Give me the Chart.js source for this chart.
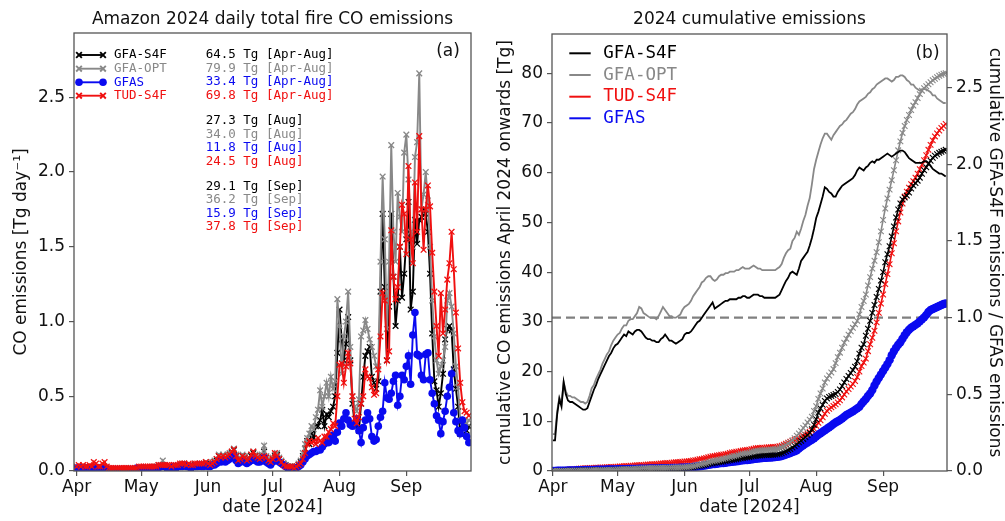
<!DOCTYPE html>
<html><head><meta charset="utf-8">
<script src="https://cdn.jsdelivr.net/npm/chart.js@4.4.1/dist/chart.umd.min.js"></script>
<style>
html,body{margin:0;padding:0;background:#fff;}
#wrap{position:relative;width:1005px;height:521px;overflow:hidden;background:#fff;}
#ca{position:absolute;left:0;top:0;}
#cb{position:absolute;left:490px;top:0;}
</style></head><body>
<div id="wrap"><canvas id="ca" width="490" height="521"></canvas><canvas id="cb" width="515" height="521"></canvas></div>
<script>
// ---------- data (day offset from 1 April 2024) ----------
const days = Array.from({length:183}, (_, i) => i);
const monthStarts = [0,30,61,91,122,153];
const monthLabels = ['Apr','May','Jun','Jul','Aug','Sep'];
const yTicksA = [0,0.5,1,1.5,2,2.5];
const yTicksB = [0,10,20,30,40,50,60,70,80];
const yTicksB2 = [0,0.5,1,1.5,2,2.5];
const ratioRef = 1.0;

const seriesNames = ['GFA-S4F','GFA-OPT','GFAS','TUD-S4F'];
const totAprAug = [64.5,79.9,33.4,69.8];
const totAug = [27.3,34.0,11.8,24.5];
const totSep = [29.1,36.2,15.9,37.8];

const dailyGfaS4F = [0.01,0.01,0.01,0.02,0.01,0.01,0.02,0.01,0.02,0.01,
 0.01,0.02,0.01,0.02,0.01,0.01,0.01,0.01,0.01,0.01,
 0.01,0.01,0.01,0.01,0.01,0.01,0.01,0.01,0.02,0.01,
 0.01,0.02,0.01,0.01,0.02,0.01,0.02,0.02,0.03,0.03,
 0.04,0.03,0.02,0.02,0.02,0.03,0.02,0.03,0.03,0.04,
 0.04,0.03,0.03,0.02,0.03,0.04,0.03,0.04,0.03,0.04,
 0.05,0.04,0.04,0.05,0.06,0.07,0.1,0.09,0.1,0.08,
 0.1,0.11,0.12,0.14,0.1,0.07,0.08,0.1,0.09,0.07,
 0.08,0.1,0.12,0.1,0.09,0.08,0.1,0.13,0.09,0.07,
 0.06,0.08,0.1,0.11,0.08,0.06,0.05,0.04,0.03,0.03,
 0.03,0.02,0.03,0.04,0.06,0.1,0.15,0.2,0.18,0.25,
 0.22,0.3,0.3,0.34,0.41,0.3,0.38,0.36,0.4,0.43,
 0.5,0.79,1.08,0.88,0.74,0.85,1.03,0.74,0.45,0.32,
 0.3,0.27,0.45,0.63,0.77,0.8,0.83,0.63,0.59,0.55,
 0.6,1.2,1.72,1.23,0.74,1.1,1.72,1.3,0.97,1.14,
 1.5,1.16,1.32,1.55,1.8,1.08,1.2,1.68,1.52,1.68,
 1.7,1.75,1.72,1.6,1.32,0.92,0.6,0.54,0.43,0.52,
 0.65,0.88,0.95,0.97,0.94,0.68,0.55,0.43,0.25,0.31,
 0.28,0.27,0.3];
const dailyGfaOpt = [0.02,0.02,0.02,0.03,0.02,0.02,0.02,0.02,0.03,0.02,
 0.02,0.02,0.02,0.03,0.02,0.01,0.01,0.01,0.01,0.01,
 0.01,0.01,0.01,0.01,0.01,0.02,0.01,0.01,0.02,0.02,
 0.02,0.02,0.01,0.02,0.02,0.02,0.03,0.03,0.04,0.04,
 0.07,0.04,0.03,0.03,0.03,0.03,0.03,0.04,0.04,0.05,
 0.05,0.04,0.04,0.03,0.04,0.05,0.04,0.05,0.04,0.05,
 0.06,0.05,0.04,0.06,0.07,0.08,0.11,0.1,0.11,0.09,
 0.11,0.12,0.13,0.15,0.11,0.08,0.09,0.11,0.1,0.08,
 0.09,0.11,0.13,0.11,0.1,0.09,0.11,0.17,0.1,0.08,
 0.07,0.09,0.11,0.12,0.09,0.07,0.05,0.04,0.03,0.03,
 0.03,0.03,0.03,0.05,0.07,0.12,0.18,0.22,0.25,0.3,
 0.28,0.36,0.41,0.54,0.43,0.5,0.59,0.5,0.63,0.55,
 0.6,1.15,0.97,0.65,0.9,1.0,1.2,0.83,0.5,0.43,
 0.4,0.48,0.9,0.94,1.01,0.95,0.88,0.83,0.77,0.7,
 0.7,1.4,1.97,1.55,0.95,1.4,2.18,1.6,1.4,1.86,
 1.7,1.6,2.13,2.25,1.95,1.6,1.5,2.1,2.2,2.66,
 1.75,1.85,2.0,1.81,1.5,1.14,0.9,0.74,0.65,0.7,
 0.74,0.83,1.14,1.19,1.1,0.92,0.7,0.56,0.34,0.34,
 0.33,0.32,0.34];
const dailyGfas = [0.02,0.02,0.02,0.02,0.02,0.02,0.02,0.02,0.02,0.02,
 0.02,0.02,0.02,0.02,0.01,0.01,0.01,0.01,0.01,0.01,
 0.01,0.01,0.01,0.01,0.01,0.01,0.01,0.01,0.02,0.01,
 0.01,0.02,0.01,0.01,0.02,0.02,0.02,0.02,0.02,0.03,
 0.03,0.03,0.02,0.02,0.02,0.03,0.02,0.03,0.03,0.03,
 0.04,0.03,0.03,0.02,0.03,0.03,0.03,0.04,0.03,0.03,
 0.04,0.03,0.03,0.04,0.04,0.05,0.07,0.06,0.07,0.06,
 0.07,0.08,0.09,0.1,0.07,0.05,0.06,0.07,0.06,0.05,
 0.06,0.07,0.08,0.07,0.06,0.06,0.07,0.09,0.06,0.05,
 0.04,0.06,0.07,0.08,0.06,0.05,0.04,0.03,0.02,0.02,
 0.02,0.02,0.02,0.03,0.04,0.06,0.08,0.1,0.11,0.12,
 0.13,0.13,0.14,0.14,0.16,0.18,0.2,0.19,0.22,0.24,
 0.2,0.26,0.32,0.3,0.35,0.39,0.34,0.31,0.3,0.32,
 0.35,0.27,0.19,0.29,0.34,0.39,0.35,0.23,0.2,0.21,
 0.3,0.36,0.4,0.59,0.49,0.48,0.52,0.6,0.64,0.44,
 0.5,0.64,0.61,0.7,0.77,0.58,0.91,1.06,0.78,0.77,
 0.64,0.61,0.78,0.79,0.61,0.52,0.45,0.37,0.34,0.25,
 0.33,0.4,0.5,0.56,0.65,0.39,0.33,0.27,0.25,0.34,
 0.29,0.23,0.19];
const dailyTudS4F = [0.03,0.04,0.03,0.04,0.03,0.03,0.04,0.03,0.06,0.05,
 0.03,0.03,0.05,0.06,0.03,0.02,0.02,0.02,0.02,0.02,
 0.02,0.02,0.02,0.02,0.02,0.02,0.02,0.02,0.02,0.03,
 0.03,0.03,0.03,0.03,0.03,0.03,0.03,0.03,0.04,0.04,
 0.04,0.04,0.04,0.04,0.03,0.04,0.04,0.04,0.05,0.05,
 0.05,0.04,0.05,0.04,0.04,0.05,0.05,0.05,0.05,0.05,
 0.06,0.05,0.04,0.05,0.06,0.08,0.1,0.09,0.1,0.09,
 0.1,0.11,0.13,0.145,0.1,0.07,0.08,0.1,0.09,0.07,
 0.08,0.11,0.13,0.1,0.09,0.08,0.09,0.1,0.09,0.07,
 0.06,0.08,0.12,0.1,0.08,0.06,0.04,0.03,0.03,0.03,
 0.03,0.02,0.03,0.04,0.05,0.08,0.12,0.18,0.2,0.19,
 0.2,0.18,0.22,0.2,0.19,0.23,0.23,0.26,0.28,0.32,
 0.3,0.5,0.71,0.72,0.59,0.7,0.79,0.72,0.5,0.35,
 0.32,0.36,0.45,0.5,0.68,0.63,0.62,0.56,0.51,0.52,
 0.68,0.9,1.19,1.14,0.74,0.8,1.61,1.3,1.15,1.23,
 1.5,1.78,1.72,1.45,2.04,1.55,1.39,1.93,1.6,2.24,
 1.75,1.48,1.75,1.91,1.77,1.46,1.2,0.97,0.77,1.19,
 0.92,1.08,1.28,1.39,1.6,1.35,1.06,0.82,0.59,0.46,
 0.4,0.39,0.37];

const cumGfaS4F = [0.0,0.01,0.01,0.02,0.02,0.03,0.04,0.04,0.05,0.06,
 0.07,0.08,0.09,0.1,0.11,0.12,0.13,0.14,0.15,0.16,
 0.17,0.18,0.19,0.2,0.21,0.22,0.23,0.24,0.26,0.27,
 0.28,0.29,0.3,0.31,0.32,0.33,0.34,0.35,0.36,0.37,
 0.38,0.39,0.4,0.41,0.42,0.43,0.44,0.45,0.46,0.47,
 0.48,0.49,0.5,0.51,0.52,0.53,0.54,0.55,0.56,0.57,
 0.59,0.62,0.65,0.69,0.74,0.8,0.88,0.96,1.04,1.11,
 1.19,1.28,1.38,1.49,1.57,1.63,1.7,1.78,1.85,1.91,
 1.98,2.06,2.16,2.24,2.31,2.38,2.46,2.56,2.63,2.69,
 2.74,2.81,2.89,2.98,3.04,3.09,3.13,3.16,3.19,3.21,
 3.23,3.25,3.27,3.3,3.35,3.44,3.58,3.78,3.96,4.2,
 4.42,4.72,5.02,5.36,5.77,6.07,6.45,6.81,7.21,7.64,
 8.4,9.3,10.4,11.7,12.6,13.3,14.1,14.6,14.9,15.1,
 15.3,15.5,15.9,16.4,17.1,17.8,18.5,19.1,19.7,20.3,
 21.0,22.1,23.6,24.8,25.5,27.2,28.6,30.2,31.8,33.4,
 35.0,36.6,38.3,40.0,42.0,43.6,45.2,47.2,49.2,51.0,
 52.6,53.8,54.6,55.0,55.4,56.0,56.8,57.4,57.9,58.4,
 59.0,59.8,60.5,61.1,61.8,62.4,63.0,63.4,63.7,64.0,
 64.2,64.4,64.6];
const cumGfaOpt = [0.0,0.0,0.01,0.01,0.02,0.02,0.03,0.03,0.04,0.04,
 0.05,0.06,0.07,0.08,0.09,0.1,0.11,0.12,0.13,0.14,
 0.15,0.16,0.17,0.18,0.19,0.2,0.21,0.23,0.25,0.27,
 0.29,0.31,0.33,0.35,0.37,0.39,0.41,0.43,0.45,0.47,
 0.5,0.52,0.54,0.55,0.57,0.58,0.6,0.61,0.62,0.63,
 0.64,0.65,0.66,0.67,0.68,0.69,0.7,0.71,0.72,0.73,
 0.75,0.78,0.82,0.87,0.93,1.0,1.1,1.2,1.3,1.4,
 1.5,1.62,1.75,1.9,2.0,2.08,2.17,2.28,2.38,2.46,
 2.55,2.66,2.79,2.9,3.0,3.09,3.2,3.37,3.47,3.55,
 3.62,3.71,3.82,3.94,4.03,4.1,4.15,4.19,4.22,4.25,
 4.28,4.31,4.34,4.39,4.46,4.58,4.76,4.98,5.23,5.53,
 5.81,6.17,6.58,7.12,7.55,8.05,8.64,9.14,9.77,10.32,
 10.92,12.07,13.04,14.5,15.6,16.6,17.8,18.6,19.2,19.8,
 20.5,21.7,22.9,23.8,24.8,25.8,26.6,27.4,28.1,28.8,
 29.5,30.2,31.5,33.0,34.2,35.5,37.3,39.0,40.7,42.3,
 44.0,46.0,48.2,50.5,52.8,54.8,56.6,58.5,60.5,62.5,
 64.5,66.3,68.0,69.4,70.6,71.6,72.6,73.5,74.2,75.0,
 75.8,76.5,77.0,77.4,77.8,78.2,78.6,78.9,79.2,79.5,
 79.7,79.9,80.0];
const cumTudS4F = [0.03,0.06,0.09,0.12,0.15,0.18,0.21,0.24,0.29,0.34,
 0.37,0.4,0.44,0.5,0.53,0.55,0.57,0.59,0.61,0.63,
 0.65,0.67,0.69,0.71,0.73,0.75,0.77,0.79,0.81,0.84,
 0.87,0.9,0.93,0.96,0.99,1.02,1.05,1.08,1.11,1.14,
 1.17,1.2,1.23,1.26,1.29,1.32,1.35,1.38,1.42,1.46,
 1.5,1.53,1.57,1.6,1.63,1.67,1.71,1.75,1.79,1.83,
 1.87,1.91,1.94,1.98,2.03,2.1,2.19,2.27,2.36,2.44,
 2.53,2.63,2.75,2.88,2.97,3.03,3.1,3.19,3.27,3.33,
 3.4,3.5,3.62,3.71,3.79,3.86,3.94,4.03,4.11,4.17,
 4.22,4.29,4.4,4.49,4.56,4.61,4.64,4.67,4.7,4.73,
 4.76,4.78,4.81,4.85,4.9,4.98,5.1,5.28,5.48,5.67,
 5.87,6.05,6.25,6.45,6.63,6.85,7.07,7.3,7.55,7.85,
 8.1,8.5,9.1,9.7,10.2,10.8,11.5,12.1,12.5,12.8,
 13.1,13.4,13.8,14.2,14.8,15.4,16.0,16.5,17.0,17.5,
 18.1,18.9,20.0,21.1,21.8,22.6,24.1,25.5,26.8,28.2,
 29.9,31.8,33.7,35.5,37.6,39.6,41.6,43.8,45.8,48.2,
 50.2,52.0,53.8,55.2,56.2,57.0,57.7,58.3,59.0,59.8,
 60.7,61.6,62.5,63.5,64.6,65.6,66.5,67.3,67.9,68.5,
 69.0,69.4,69.8];
const cumGfas = [0.01,0.02,0.04,0.05,0.06,0.07,0.08,0.1,0.11,0.12,
 0.13,0.14,0.16,0.17,0.18,0.19,0.2,0.21,0.22,0.23,
 0.24,0.25,0.26,0.27,0.28,0.29,0.3,0.31,0.32,0.33,
 0.34,0.35,0.36,0.37,0.38,0.39,0.4,0.41,0.42,0.43,
 0.44,0.45,0.46,0.47,0.48,0.49,0.5,0.51,0.52,0.53,
 0.54,0.55,0.56,0.57,0.58,0.59,0.6,0.61,0.62,0.64,
 0.66,0.68,0.7,0.73,0.76,0.8,0.86,0.91,0.97,1.02,
 1.08,1.15,1.23,1.32,1.38,1.42,1.47,1.53,1.58,1.62,
 1.67,1.73,1.8,1.86,1.91,1.96,2.02,2.1,2.15,2.19,
 2.22,2.27,2.33,2.4,2.45,2.5,2.55,2.59,2.63,2.66,
 2.69,2.72,2.75,2.79,2.84,2.92,3.02,3.15,3.3,3.46,
 3.62,3.8,3.98,4.18,4.5,4.85,5.15,5.45,5.75,6.05,
 6.3,6.6,6.95,7.3,7.6,7.9,8.2,8.5,8.8,9.1,
 9.45,9.75,10.0,10.25,10.55,10.9,11.25,11.5,11.75,12.0,
 12.3,12.6,12.9,13.5,14.0,14.5,15.1,15.6,16.3,17.2,
 18.0,18.7,19.4,20.1,20.8,21.5,22.3,23.3,24.1,24.8,
 25.4,25.9,26.6,27.3,27.9,28.4,28.8,29.1,29.4,29.7,
 30.1,30.5,30.9,31.4,32.0,32.4,32.6,32.8,33.0,33.2,
 33.4,33.6,33.7];

// cumulative ratio to GFAS (right axis)
const ratioS4F = [0.20,0.20,0.37,0.47,0.42,0.58,0.50,0.46,0.45,0.45,
 0.44,0.43,0.42,0.41,0.40,0.40,0.41,0.45,0.49,0.53,
 0.56,0.60,0.63,0.66,0.69,0.72,0.75,0.77,0.80,0.82,
 0.83,0.85,0.87,0.89,0.88,0.91,0.90,0.89,0.91,0.92,
 0.92,0.91,0.89,0.87,0.86,0.86,0.85,0.85,0.84,0.84,
 0.86,0.87,0.89,0.87,0.85,0.85,0.84,0.83,0.84,0.85,
 0.86,0.89,0.90,0.90,0.91,0.93,0.95,0.97,0.98,1.00,
 1.02,1.04,1.06,1.08,1.10,1.06,1.07,1.08,1.09,1.10,
 1.11,1.11,1.12,1.12,1.12,1.12,1.13,1.13,1.14,1.14,
 1.13,1.13,1.14,1.15,1.15,1.15,1.14,1.14,1.13,1.13,
 1.13,1.13,1.13,1.13,1.14,1.15,1.18,1.21,1.24,1.26,
 1.29,1.30,1.29,1.28,1.32,1.37,1.39,1.41,1.43,1.47,
 1.52,1.58,1.65,1.69,1.74,1.79,1.85,1.84,1.82,1.81,
 1.79,1.79,1.82,1.84,1.86,1.87,1.88,1.89,1.90,1.91,
 1.93,1.96,1.98,1.97,1.96,1.98,1.99,2.01,2.02,2.01,
 2.03,2.03,2.04,2.05,2.06,2.07,2.06,2.05,2.06,2.07,
 2.08,2.09,2.09,2.08,2.06,2.04,2.03,2.02,2.01,2.01,
 2.01,2.01,2.02,2.02,2.01,1.99,1.97,1.96,1.95,1.94,
 1.94,1.93,1.92];
const ratioOpt = [0.24,0.24,0.39,0.48,0.44,0.58,0.52,0.49,0.49,0.48,
 0.48,0.47,0.46,0.45,0.45,0.44,0.45,0.49,0.54,0.56,
 0.60,0.63,0.66,0.70,0.73,0.76,0.78,0.82,0.85,0.87,
 0.89,0.90,0.93,0.95,0.95,0.98,0.99,0.99,1.01,1.03,
 1.07,1.06,1.03,1.02,1.01,1.00,1.00,1.00,0.99,1.01,
 1.04,1.07,1.05,1.03,1.01,1.01,1.00,1.00,1.01,1.02,
 1.05,1.07,1.08,1.09,1.11,1.14,1.16,1.18,1.20,1.23,
 1.24,1.26,1.27,1.27,1.25,1.24,1.25,1.27,1.28,1.28,
 1.29,1.29,1.30,1.30,1.30,1.31,1.31,1.32,1.33,1.32,
 1.32,1.32,1.33,1.34,1.33,1.32,1.32,1.31,1.31,1.31,
 1.31,1.31,1.31,1.31,1.32,1.33,1.35,1.39,1.42,1.44,
 1.45,1.50,1.52,1.56,1.54,1.58,1.63,1.67,1.73,1.78,
 1.87,1.97,2.03,2.08,2.13,2.17,2.20,2.20,2.18,2.16,
 2.19,2.21,2.23,2.25,2.26,2.28,2.29,2.31,2.33,2.34,
 2.36,2.39,2.41,2.42,2.43,2.44,2.46,2.47,2.49,2.50,
 2.52,2.53,2.54,2.55,2.56,2.56,2.55,2.54,2.55,2.57,
 2.57,2.58,2.58,2.57,2.55,2.54,2.52,2.52,2.50,2.49,
 2.48,2.49,2.49,2.49,2.48,2.47,2.45,2.45,2.43,2.42,
 2.41,2.40,2.40];

// ---------- styling ----------
const FONT = "'DejaVu Sans', sans-serif";
const MONO = "'DejaVu Sans Mono', monospace";
const SPINE = '#555555';
const TXT = '#111111';
const C_BLACK = '#000000', C_GREY = '#888888', C_BLUE = '#0a0af0', C_RED = '#f01010';
const seriesColors = [C_BLACK, C_GREY, C_BLUE, C_RED];
const seriesMarkers = ['crossRot','crossRot','circle','crossRot'];

const toXY = arr => arr.map((v, i) => ({x: days[i], y: v}));

function xScale(min, max){
  return {
    type:'linear', min, max,
    afterBuildTicks: s => { s.ticks = monthStarts.map(v => ({value:v})); },
    ticks:{ callback: v => monthLabels[monthStarts.indexOf(v)], font:{family:FONT,size:17}, color:TXT, padding:1, maxRotation:0, autoSkip:false },
    grid:{ drawOnChartArea:false, drawTicks:true, tickLength:5, color:SPINE, lineWidth:1.2 },
    border:{ display:false },
    title:{ display:true, text:'date [2024]', font:{family:FONT,size:17}, color:TXT, padding:{top:0,bottom:3} },
    afterFit: s => { s.height = 50; }
  };
}
function yScale(opts){
  return {
    type:'linear', position:opts.position, min:0, max:opts.max,
    afterBuildTicks: s => { s.ticks = opts.ticks.map(v => ({value:v})); },
    ticks:{ callback: opts.fmt, font:{family:FONT,size:17}, color:TXT, padding:4 },
    grid:{ drawOnChartArea:false, drawTicks:true, tickLength:5, color:SPINE, lineWidth:1.2 },
    border:{ display:false },
    title:{ display:true, text:opts.title, font:{family:FONT,size:17}, color:TXT, padding:{top:opts.tpad,bottom:0} },
    afterFit: s => { s.width = opts.width; }
  };
}
function frame(chart){
  const {ctx, chartArea:a} = chart;
  ctx.save(); ctx.strokeStyle = SPINE; ctx.lineWidth = 1.3;
  ctx.strokeRect(a.left, a.top, a.right - a.left, a.bottom - a.top);
  ctx.restore();
}
function drawTitle(chart, text){
  const {ctx, chartArea:a} = chart;
  ctx.save(); ctx.font = `17px ${FONT}`; ctx.fillStyle = TXT;
  ctx.textAlign = 'center'; ctx.textBaseline = 'middle';
  ctx.fillText(text, (a.left + a.right) / 2, 20);
  ctx.restore();
}
function marker(ctx, style, color, x, y, r){
  ctx.strokeStyle = color; ctx.fillStyle = color;
  Chart.helpers.drawPoint(ctx, {pointStyle:style, radius:r, borderWidth: style==='circle'?0:1.3, rotation:0}, x, y);
}

// ---------- panel (a) ----------
const dailySeries = [dailyGfaS4F, dailyGfaOpt, dailyGfas, dailyTudS4F];
const orderA = [3,2,1,0];
const dsA = dailySeries.map((arr, i) => ({
  label: seriesNames[i], data: toXY(arr),
  borderColor: seriesColors[i], backgroundColor: seriesColors[i],
  borderWidth: 1.9, pointStyle: seriesMarkers[i],
  pointRadius: seriesMarkers[i]==='circle' ? 3.8 : 4,
  pointBorderWidth: seriesMarkers[i]==='circle' ? 0 : 1.3,
  pointBorderColor: seriesColors[i], pointBackgroundColor: seriesColors[i],
  order: orderA[i]
}));

const decorA = {
  id:'decorA',
  afterDraw(chart){
    const ctx = chart.ctx;
    frame(chart);
    drawTitle(chart, 'Amazon 2024 daily total fire CO emissions');
    ctx.save();
    const rows = [55, 68.7, 82.3, 95.7];
    rows.forEach((y, i) => {
      ctx.strokeStyle = seriesColors[i]; ctx.lineWidth = 1.9;
      ctx.beginPath(); ctx.moveTo(79, y); ctx.lineTo(103, y); ctx.stroke();
      const r = seriesMarkers[i]==='circle' ? 3.8 : 4;
      marker(ctx, seriesMarkers[i], seriesColors[i], 79, y, r);
      marker(ctx, seriesMarkers[i], seriesColors[i], 103, y, r);
      ctx.fillStyle = seriesColors[i]; ctx.font = `12.5px ${MONO}`;
      ctx.textAlign = 'left'; ctx.textBaseline = 'middle';
      ctx.fillText(seriesNames[i], 114, y);
    });
    const groups = [[totAprAug,'Apr-Aug',55],[totAug,'Aug',120.8],[totSep,'Sep',186.3]];
    ctx.font = `12.5px ${MONO}`; ctx.textAlign = 'left'; ctx.textBaseline = 'middle';
    groups.forEach(([vals, lab, y0]) => {
      vals.forEach((v, i) => {
        ctx.fillStyle = seriesColors[i];
        ctx.fillText(`${v.toFixed(1)} Tg [${lab}]`, 205.7, y0 + i * 13.55);
      });
    });
    ctx.fillStyle = TXT; ctx.font = `17px ${FONT}`; ctx.textAlign = 'center';
    ctx.fillText('(a)', 448, 52);
    ctx.restore();
  }
};

new Chart(document.getElementById('ca'), {
  type:'line',
  data:{ datasets: dsA },
  options:{
    responsive:false, animation:false, devicePixelRatio:1, events:[],
    layout:{ padding:{ top:33, right:19, left:0, bottom:0 } },
    plugins:{ legend:{display:false}, tooltip:{enabled:false}, title:{display:false} },
    scales:{
      x: xScale(-1.2, 183),
      y: yScale({position:'left', max:2.93, ticks:yTicksA, fmt: v => v.toFixed(1), title:'CO emissions [Tg day⁻¹]', tpad:11, width:74})
    }
  },
  plugins:[decorA]
});

// ---------- panel (b) ----------
const legendB = [['GFA-S4F', C_BLACK],['GFA-OPT', C_GREY],['TUD-S4F', C_RED],['GFAS', C_BLUE]];
const cumDs = (label, arr, color, style, order) => ({
  label, data: toXY(arr), yAxisID:'y',
  borderColor: color, backgroundColor: color, borderWidth: 1.6,
  pointStyle: style, pointRadius: style==='circle' ? 4.2 : 4.0,
  pointBorderWidth: style==='circle' ? 0 : 1.1,
  pointBorderColor: color, pointBackgroundColor: color, order
});
const dsB = [
  {label:'GFA-S4F / GFAS', data: toXY(ratioS4F), yAxisID:'y2', borderColor:C_BLACK, borderWidth:1.8, pointRadius:0, order:0},
  {label:'GFA-OPT / GFAS', data: toXY(ratioOpt), yAxisID:'y2', borderColor:C_GREY, borderWidth:1.8, pointRadius:0, order:1},
  cumDs('GFA-OPT', cumGfaOpt, C_GREY, 'crossRot', 2),
  cumDs('GFA-S4F', cumGfaS4F, C_BLACK, 'crossRot', 3),
  cumDs('GFAS', cumGfas, C_BLUE, 'circle', 4),
  cumDs('TUD-S4F', cumTudS4F, C_RED, 'crossRot', 5)
];

const decorB = {
  id:'decorB',
  beforeDatasetsDraw(chart){
    const {ctx, chartArea:a} = chart;
    const y = chart.scales.y2.getPixelForValue(ratioRef);
    ctx.save(); ctx.strokeStyle = '#808080'; ctx.lineWidth = 2.2; ctx.setLineDash([9,5]);
    ctx.beginPath(); ctx.moveTo(a.left, y); ctx.lineTo(a.right, y); ctx.stroke();
    ctx.restore();
  },
  afterDraw(chart){
    const ctx = chart.ctx;
    frame(chart);
    drawTitle(chart, '2024 cumulative emissions');
    ctx.save();
    const rows = [53.3, 75, 96.7, 118.3];
    legendB.forEach(([lab, col], i) => {
      ctx.strokeStyle = col; ctx.lineWidth = 2;
      ctx.beginPath(); ctx.moveTo(79.3, rows[i]); ctx.lineTo(100.7, rows[i]); ctx.stroke();
      ctx.fillStyle = col; ctx.font = `17.5px ${MONO}`; ctx.textAlign = 'left'; ctx.textBaseline = 'middle';
      ctx.fillText(lab, 113.3, rows[i]);
    });
    ctx.fillStyle = TXT; ctx.font = `17px ${FONT}`; ctx.textAlign = 'center'; ctx.textBaseline = 'middle';
    ctx.fillText('(b)', 437.5, 53.3);
    ctx.restore();
  }
};

new Chart(document.getElementById('cb'), {
  type:'line',
  data:{ datasets: dsB },
  options:{
    responsive:false, animation:false, devicePixelRatio:1, events:[],
    layout:{ padding:{ top:34, right:0, left:0, bottom:0 } },
    plugins:{ legend:{display:false}, tooltip:{enabled:false}, title:{display:false} },
    scales:{
      x: xScale(-0.4, 182.6),
      y: yScale({position:'left', max:87.9, ticks:yTicksB, fmt: v => String(v), title:'cumulative CO emissions April 2024 onwards [Tg]', tpad:5, width:62}),
      y2: yScale({position:'right', max:2.85, ticks:yTicksB2, fmt: v => v.toFixed(1), title:'cumulative GFA-S4F emissions / GFAS emissions', tpad:0, width:58})
    }
  },
  plugins:[decorB]
});
</script>
</body></html>
